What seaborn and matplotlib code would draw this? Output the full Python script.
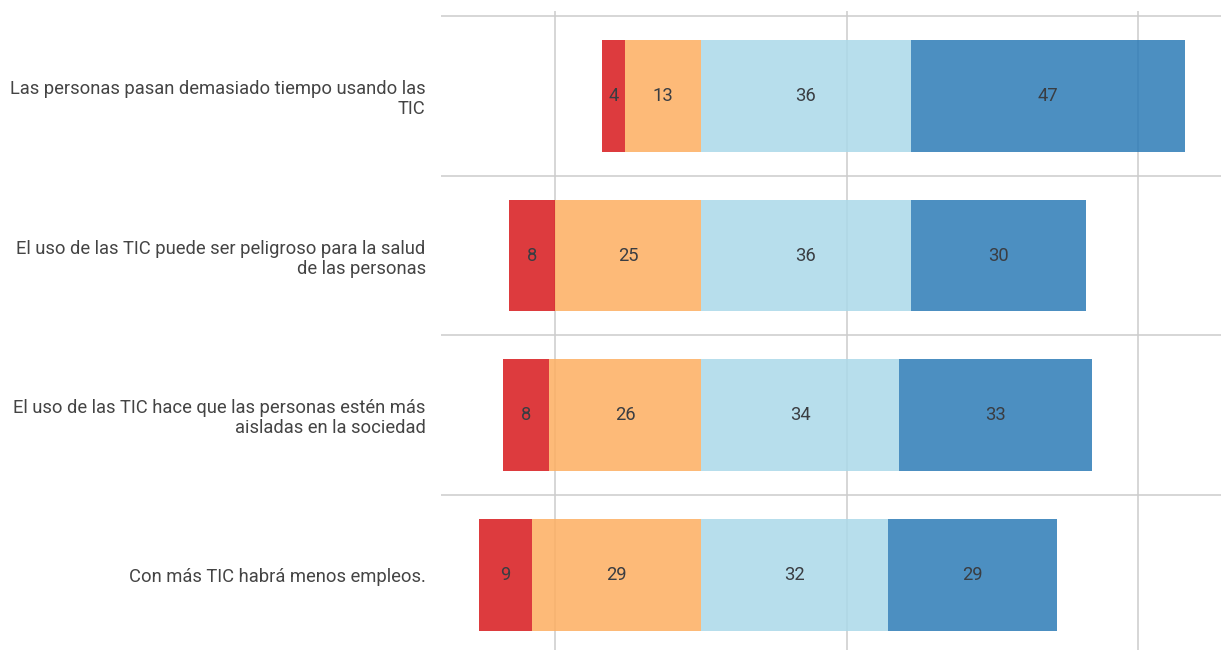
import matplotlib
matplotlib.use("Agg")
import matplotlib.pyplot as plt
import seaborn as sns

# Survey statements (top to bottom) and answer shares in percent
statements = [
    "Las personas pasan demasiado tiempo usando las\nTIC",
    "El uso de las TIC puede ser peligroso para la salud\nde las personas",
    "El uso de las TIC hace que las personas estén más\naisladas en la sociedad",
    "Con más TIC habrá menos empleos.",
]
muy_desacuerdo = [4, 8, 8, 9]
desacuerdo = [13, 25, 26, 29]
de_acuerdo = [36, 36, 34, 32]
muy_de_acuerdo = [47, 30, 33, 29]

colors = ["#d7191c", "#fdae61", "#abd9e9", "#2c7bb6"]
grid_x = [-25, 25, 75]

sns.set_style("white")
plt.rcParams["font.family"] = ["Roboto", "DejaVu Sans"]

fig = plt.figure(figsize=(12.28, 6.5), dpi=100)
ax = fig.add_axes([441 / 1228, 0, 780 / 1228, 639 / 650])

# diverging segments: negatives to the left of 0, positives to the right
segments = [
    (muy_desacuerdo, [-(a + b) for a, b in zip(muy_desacuerdo, desacuerdo)]),
    (desacuerdo, [-b for b in desacuerdo]),
    (de_acuerdo, [0] * len(de_acuerdo)),
    (muy_de_acuerdo, list(de_acuerdo)),
]

for (vals, lefts), col in zip(segments, colors):
    sns.barplot(x=vals, y=statements, left=lefts, color=col, alpha=0.85,
                saturation=1, width=0.7, orient="h", ax=ax, zorder=2,
                linewidth=0)
    for i, (v, l) in enumerate(zip(vals, lefts)):
        ax.text(l + v / 2, i, str(v), ha="center", va="center",
                fontsize=13.2, color="#3a3d42", zorder=3)

for gx in grid_x:
    ax.axvline(gx, color="#cccccc", lw=1.1, zorder=1)
for sep in [-0.5, 0.5, 1.5, 2.5]:
    ax.axhline(sep, color="#cccccc", lw=1.1, zorder=1)

ax.set_xlim(-44.6, 89.2)
ax.set_ylim(3.47, -0.531)
sns.despine(ax=ax, left=True, bottom=True)
ax.set_xticks([])
ax.set_xlabel("")
ax.set_ylabel("")
ax.tick_params(axis="y", length=0, pad=11)
for lbl in ax.get_yticklabels():
    lbl.set_fontsize(13.25)
    lbl.set_color("#444444")
    lbl.set_linespacing(1.15)

fig.savefig("out.png", dpi=100)
